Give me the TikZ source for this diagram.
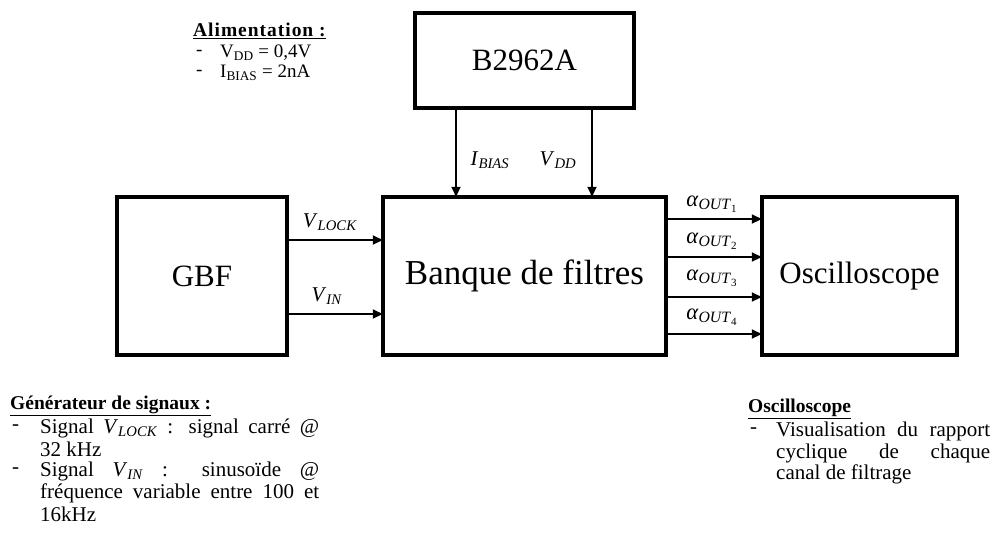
\documentclass[tikz,border=0pt]{standalone}
\usepackage{fontspec}
\setmainfont{Liberation Serif}
\usetikzlibrary{arrows.meta}
\newcommand{\mv}[2]{\textit{#1}\textsubscript{\textit{#2}}}
\newcommand{\aout}[1]{\textit{α}\textsubscript{\textit{OUT}\textsubscript{\upshape #1}}}
\begin{document}
\begin{tikzpicture}[x=1pt,y=-1pt,
  box/.style={draw,line width=3.5pt,inner sep=0pt},
  arr/.style={line width=2.2pt,-{Triangle[length=10pt,width=9pt]},shorten >=-1.5pt},
  big/.style={font=\fontsize{31}{36}\selectfont},
  lbl/.style={font=\fontsize{21}{24}\selectfont,inner sep=0pt},
  albl/.style={font=\fontsize{22.5}{24}\selectfont,inner sep=0pt},
  small/.style={font=\fontsize{21}{21.5}\selectfont,inner sep=0pt,anchor=west},
  alim/.style={font=\fontsize{19}{20}\selectfont,inner sep=0pt,anchor=west},
  ttl/.style={inner sep=0pt,anchor=west,font=\fontsize{19.5}{21.5}\selectfont\bfseries}]
\useasboundingbox (0,0) rectangle (994,533);
% boxes
\node[box,big,minimum width=219pt,minimum height=95pt] (src) at (524.5,60.5) {B2962A};
\node[box,big,minimum width=170pt,minimum height=158pt] (gbf) at (202,276) {GBF};
\node[box,font=\fontsize{35}{40}\selectfont,minimum width=283pt,minimum height=158pt] (bank) at (524.5,276) {Banque de filtres};
\node[box,big,minimum width=195pt,minimum height=158pt] (osc) at (859.5,276) {Oscilloscope};
% helper coordinates
\coordinate (xb) at (456,0);
\coordinate (xv) at (592,0);
\coordinate (y1) at (0,240);
\coordinate (y2) at (0,314);
\coordinate (o1) at (0,219);
\coordinate (o2) at (0,257);
\coordinate (o3) at (0,297);
\coordinate (o4) at (0,334);
% connectors
\draw[arr] (src.south -| xb) -- (bank.north -| xb);
\draw[arr] (src.south -| xv) -- (bank.north -| xv);
\draw[arr] (gbf.east |- y1) -- (bank.west |- y1);
\draw[arr] (gbf.east |- y2) -- (bank.west |- y2);
\draw[arr] (bank.east |- o1) -- (osc.west |- o1);
\draw[arr] (bank.east |- o2) -- (osc.west |- o2);
\draw[arr] (bank.east |- o3) -- (osc.west |- o3);
\draw[arr] (bank.east |- o4) -- (osc.west |- o4);
% connector labels
\node[lbl] (lib) at (490,160) {\mv{I}{BIAS}};
\node[lbl] (lvd) at (558,160) {\mv{V}{DD}};
\node[lbl] (llk) at (330,222) {\mv{V}{LOCK}};
\node[lbl] (lin) at (327,296) {\mv{V}{IN}};
\node[albl] (la1) at (712,204) {\aout{1}};
\node[albl] (la2) at (712,241) {\aout{2}};
\node[albl] (la3) at (712,278) {\aout{3}};
\node[albl] (la4) at (712,317) {\aout{4}};
% Alimentation
\node[ttl] (at) at (193,31) {\addfontfeatures{LetterSpace=5}\underline{Alimentation :}};
\node[alim] (ad1) at (196,53) {-};
\node[alim] (a1) at (220,53) {V\textsubscript{DD} = 0,4V};
\node[alim] (ad2) at (196,73) {-};
\node[alim] (a2) at (220,73) {I\textsubscript{BIAS} = 2nA};
% Generateur
\node[ttl] (gt) at (10,406) {\underline{Générateur de signaux :}};
\node[small] (gd1) at (12,428) {-};
\node[small] (g1) at (40,428) {\makebox[279pt][s]{Signal \mv{V}{LOCK} : signal carré @}};
\node[small] (g2) at (40,449) {32 kHz};
\node[small] (gd2) at (12,471) {-};
\node[small] (g3) at (40,471) {\makebox[279pt][s]{Signal \mv{V}{IN} : sinusoïde @}};
\node[small] (g4) at (40,493) {\makebox[279pt][s]{fréquence variable entre 100 et}};
\node[small] (g5) at (40,514) {16kHz};
% Oscilloscope notes
\node[ttl] (ot) at (748,409) {\underline{Oscilloscope}};
\node[small] (od1) at (750,431) {-};
\node[small] (oo1) at (776,431) {\makebox[214pt][s]{Visualisation du rapport}};
\node[small] (oo2) at (776,453) {\makebox[214pt][s]{cyclique de chaque}};
\node[small] (oo3) at (776,474) {canal de filtrage};
\end{tikzpicture}
\end{document}
